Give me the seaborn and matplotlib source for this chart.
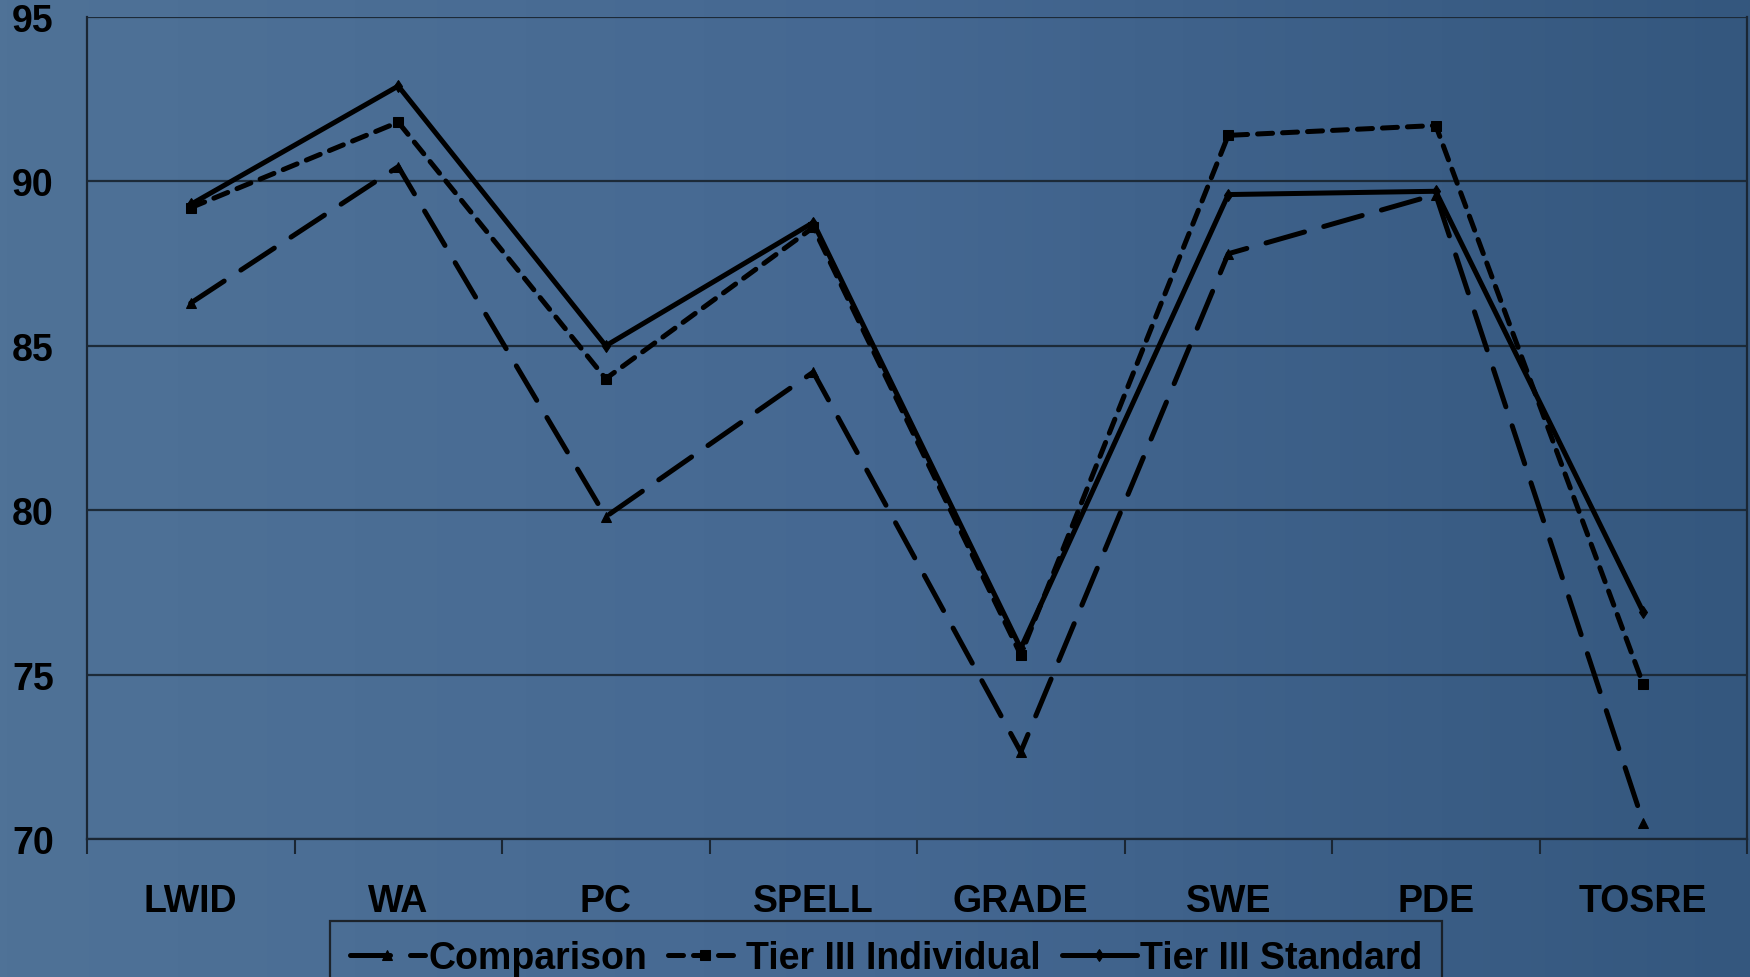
import numpy as np
import pandas as pd
import matplotlib
matplotlib.use("Agg")
import matplotlib.pyplot as plt
import seaborn as sns
from matplotlib.colors import LinearSegmentedColormap

categories = ["LWID", "WA", "PC", "SPELL", "GRADE", "SWE", "PDE", "TOSRE"]
comparison = [86.3, 90.45, 79.8, 84.2, 72.65, 87.8, 89.6, 70.5]
tier3_individual = [89.2, 91.8, 84.0, 88.6, 75.6, 91.4, 91.7, 74.7]
tier3_standard = [89.3, 92.9, 85.0, 88.75, 75.8, 89.6, 89.7, 76.9]
series_names = ["Comparison", "Tier III Individual", "Tier III Standard"]
y_ticks = [70, 75, 80, 85, 90, 95]

sns.set_theme(style="white")
plt.rcParams["font.family"] = ["Liberation Sans", "DejaVu Sans"]
plt.rcParams["font.weight"] = "bold"
plt.rcParams["text.color"] = "black"
plt.rcParams["xtick.color"] = "black"
plt.rcParams["ytick.color"] = "black"

fig = plt.figure(figsize=(17.5, 9.78), dpi=100)

# horizontal blue gradient behind everything
bg = fig.add_axes([0, 0, 1, 1], zorder=-10)
cmap = LinearSegmentedColormap.from_list("bg", ["#4F7297", "#456892", "#34577E"])
bg.imshow(np.linspace(0, 1, 256)[None, :], aspect="auto", cmap=cmap,
          extent=[0, 1, 0, 1])
bg.set_axis_off()

ax = fig.add_axes([87 / 1750, 1 - 840 / 978, 1660 / 1750, 822 / 978])
ax.patch.set_alpha(0)

df = pd.DataFrame({
    "category": categories * 3,
    "value": comparison + tier3_individual + tier3_standard,
    "series": sum([[s] * len(categories) for s in series_names], []),
})
x_pos = {c: i for i, c in enumerate(categories)}
df["x"] = df["category"].map(x_pos)

styles = {
    "Comparison": dict(dashes=(8.0, 4.0), marker="^", ms=7),
    "Tier III Individual": dict(dashes=(3.0, 2.0), marker="s", ms=7),
    "Tier III Standard": dict(dashes=None, marker="d", ms=6),
}

for name in series_names:
    sub = df[df["series"] == name]
    st = styles[name]
    sns.lineplot(data=sub, x="x", y="value", ax=ax, color="black",
                 linewidth=3.6, marker=st["marker"], markersize=st["ms"],
                 markeredgecolor="black", label=name, legend=False,
                 solid_capstyle="round", dash_capstyle="round")
    line = ax.lines[-1]
    if st["dashes"] is not None:
        line.set_dashes(st["dashes"])

ax.set_xlim(-0.5, len(categories) - 0.5)
ax.set_ylim(70, 95)
ax.set_yticks(y_ticks)
ax.set_yticklabels([str(t) for t in y_ticks], fontsize=27, fontweight="bold",
                   color="black")
ax.set_xticks(range(len(categories)))
ax.set_xticklabels(categories, fontsize=27, fontweight="bold", color="black")
ax.tick_params(axis="x", length=0, pad=32)
ax.tick_params(axis="y", length=11, width=1.5, color="#1a2633", pad=13)
# category boundary ticks along the bottom
ax.set_xticks(np.arange(-0.5, len(categories), 1.0), minor=True)
ax.tick_params(axis="x", which="minor", length=11, width=1.5, color="#1a2633",
               direction="out", bottom=True)
ax.set_xlabel("")
ax.set_ylabel("")
ax.grid(axis="y", color="#1c2a38", linewidth=1.6)
ax.set_axisbelow(True)
for side in ["left", "bottom", "right"]:
    ax.spines[side].set_visible(True)
    ax.spines[side].set_color("#1a2633")
    ax.spines[side].set_linewidth(1.6)
ax.spines["top"].set_visible(False)

handles = ax.lines[:3]
leg = fig.legend(handles, series_names, loc="upper left",
                 bbox_to_anchor=(330 / 1750, 1 - 922 / 978), ncol=3,
                 frameon=True, fancybox=False, facecolor="none",
                 edgecolor="#111111", prop=dict(size=27, weight="bold"),
                 labelcolor="black",
                 handlelength=2.0, handletextpad=0.1, columnspacing=0.55,
                 borderpad=0.52, borderaxespad=0)
leg.get_frame().set_linewidth(1.6)

fig.savefig("out.png", dpi=100)
